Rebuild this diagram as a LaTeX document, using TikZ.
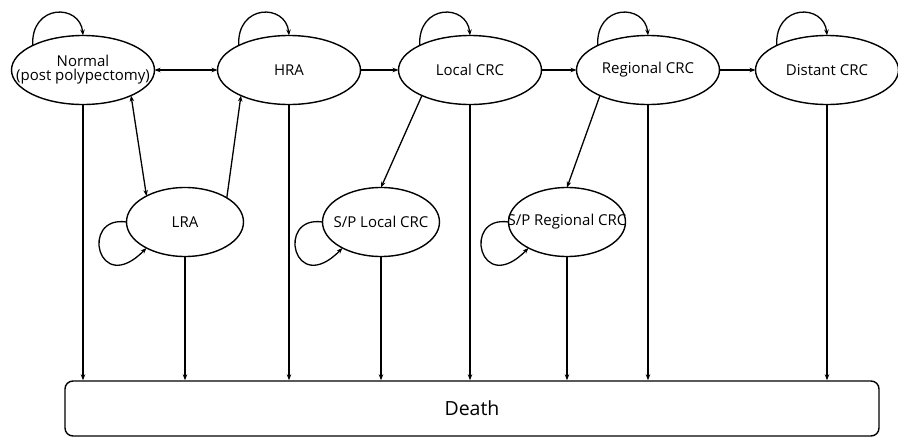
\documentclass[tikz,border=0pt]{standalone}
\usepackage{fontspec}
\setmainfont{Open Sans}
\usetikzlibrary{shapes.geometric,arrows.meta}
\newcommand{\zw}[1]{\makebox[0pt]{#1}}
\begin{document}
\begin{tikzpicture}[x=1pt,y=-1pt,
  state/.style={ellipse,draw,line width=1.4pt,inner sep=0pt,outer sep=0pt,
    minimum width=143pt,minimum height=69pt,font=\fontsize{15}{17}\selectfont},
  sstate/.style={state,minimum width=117pt},
  conn/.style={line width=1.3pt,-{Stealth[length=6pt,width=4.5pt]}},
  dconn/.style={line width=1.3pt,{Stealth[length=6pt,width=4.5pt]}-{Stealth[length=6pt,width=4.5pt]}},
  deathbox/.style={draw,line width=1.4pt,rounded corners=8pt,minimum width=814pt,minimum height=55pt,
    inner sep=0pt,font=\fontsize{19.5}{22}\selectfont}]
\useasboundingbox (0,0) rectangle (898,437);
\node[state] (N) at (83,70) {\zw{\begin{tabular}{@{}c@{}}Normal\\[-3pt](post polypectomy)\end{tabular}}};
\node[state] (H) at (289,70) {\zw{HRA}};
\node[state] (L) at (470,70) {\zw{Local CRC}};
\node[state] (R) at (648,70) {\zw{Regional CRC}};
\node[state] (D) at (827,70) {\zw{Distant CRC}};
\node[sstate] (LRA) at (185,222) {\zw{LRA}};
\node[sstate] (SL) at (381,222) {\zw{S/P Local CRC}};
\node[sstate] (SR) at (567,222) {\zw{S/P Regional CRC}};
\node[deathbox] (X) at (472,408.5) {Death};
% horizontal
\draw[dconn] (N.east) -- (H.west);
\draw[conn] (H.east) -- (L.west);
\draw[conn] (L.east) -- (R.west);
\draw[conn] (R.east) -- (D.west);
% diagonal
\draw[dconn] (N.-28) -- (LRA.146);
\draw[conn] (LRA.30) -- (H.208);
\draw[conn] (L.208) -- (SL.north);
\draw[conn] (R.208) -- (SR.north);
% top self loops
\foreach \n in {N,H,L,R,D}{
  \draw[conn] (\n.154) .. controls +(-2,-42) and +(-3,-32) .. (\n.north);
}
% bottom self loops
\foreach \n in {LRA,SL,SR}{
  \draw[conn] (\n.west) .. controls +(-47,-7) and +(-49,50) .. (\n.214);
}
% to death
\foreach \n in {N,H,L,R,D,LRA,SL,SR}{
  \draw[conn] (\n.south) -- (\n.south |- X.north);
}
\end{tikzpicture}
\end{document}
